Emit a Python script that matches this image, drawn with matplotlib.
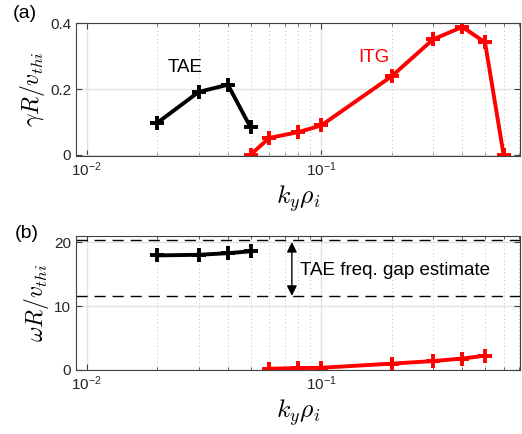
import numpy as np
import matplotlib
matplotlib.use("Agg")
import matplotlib.pyplot as plt
from matplotlib.ticker import LogLocator, NullFormatter

plt.rcParams['font.family'] = ['Liberation Sans', 'DejaVu Sans']
plt.rcParams['mathtext.fontset'] = 'cm'

# growth rates
ky_tae = [0.02, 0.03, 0.04, 0.05]
gam_tae = [0.097, 0.191, 0.213, 0.083]
ky_itg = [0.05, 0.06, 0.08, 0.1, 0.2, 0.3, 0.4, 0.5, 0.6]
gam_itg = [0.0, 0.051, 0.069, 0.089, 0.239, 0.351, 0.389, 0.342, 0.0]

# real frequencies
om_tae = [17.95, 18.05, 18.3, 18.6]
ky_itg_w = [0.06, 0.08, 0.1, 0.2, 0.3, 0.4, 0.5]
om_itg = [0.15, 0.25, 0.3, 0.95, 1.35, 1.75, 2.2]

# TAE gap bounds
gap_lo, gap_hi = 11.65, 20.35

spine_c = '#404040'
lw = 2.8
mk = dict(marker='+', ms=9.5, mew=2.8)

fig = plt.figure(figsize=(5.22, 4.34), dpi=100)
ax1 = fig.add_axes([0.1456, 0.6412, 0.8506, 0.3051])
ax2 = fig.add_axes([0.1456, 0.1482, 0.8506, 0.3080])


def style(ax):
    ax.set_xscale('log')
    ax.set_xlim(0.009, 0.705)
    ax.set_xticks([0.01, 0.1])
    ax.set_xticklabels([r'$\mathregular{10^{-2}}$', r'$\mathregular{10^{-1}}$'])
    ax.xaxis.set_minor_locator(LogLocator(base=10, subs=np.arange(2, 10)))
    ax.xaxis.set_minor_formatter(NullFormatter())
    ax.tick_params(which='both', direction='in', top=True, right=True,
                   colors=spine_c, labelcolor='#262626', labelsize=11)
    ax.tick_params(which='major', length=4, width=0.8)
    ax.tick_params(which='minor', length=2, width=0.6)
    ax.grid(True, which='major', color='#e3e3e3', lw=1.0)
    ax.grid(True, which='minor', axis='x', color='#bdbdbd', lw=0.7, ls=(0, (1, 3)))
    ax.set_axisbelow(True)
    for s in ax.spines.values():
        s.set_color(spine_c)
        s.set_linewidth(0.8)
    ax.set_xlabel(r'$k_y\rho_i$', fontsize=18.5, labelpad=3)


style(ax1)
ax1.plot(ky_tae, gam_tae, color='black', lw=lw, **mk)
ax1.plot(ky_itg, gam_itg, color='red', lw=lw, **mk)
ax1.set_ylim(-0.003, 0.4)
ax1.set_yticks([0, 0.2, 0.4])
ax1.set_yticklabels(['0', '0.2', '0.4'])
ax1.set_ylabel(r'$\gamma R/v_{thi}$', fontsize=17, labelpad=2)
ax1.text(0.0263, 0.265, 'TAE', fontsize=13.5, ha='center', va='center')
ax1.text(0.168, 0.297, 'ITG', fontsize=13.5, color='red', ha='center', va='center')
fig.text(0.048, 0.968, '(a)', fontsize=14, ha='center', va='center')

style(ax2)
ax2.axhline(gap_hi, color='black', lw=1.0, ls=(0, (8, 5)))
ax2.axhline(gap_lo, color='black', lw=1.0, ls=(0, (8, 5)))
ax2.plot(ky_tae, om_tae, color='black', lw=lw, **mk)
ax2.plot(ky_itg_w, om_itg, color='red', lw=lw, **mk)
ax2.annotate('', xy=(0.075, gap_lo - 0.05), xytext=(0.075, gap_hi - 0.3),
             arrowprops=dict(arrowstyle='<|-|>', color='black', lw=1.0,
                             mutation_scale=15, shrinkA=0, shrinkB=0))
ax2.text(0.081, 15.6, 'TAE freq. gap estimate', fontsize=13.5, ha='left', va='center')
ax2.set_ylim(0, 21)
ax2.set_yticks([0, 10, 20])
ax2.set_ylabel(r'$\omega R/v_{thi}$', fontsize=17, labelpad=2)
fig.text(0.052, 0.463, '(b)', fontsize=14, ha='center', va='center')

fig.savefig('out.png', dpi=100)
